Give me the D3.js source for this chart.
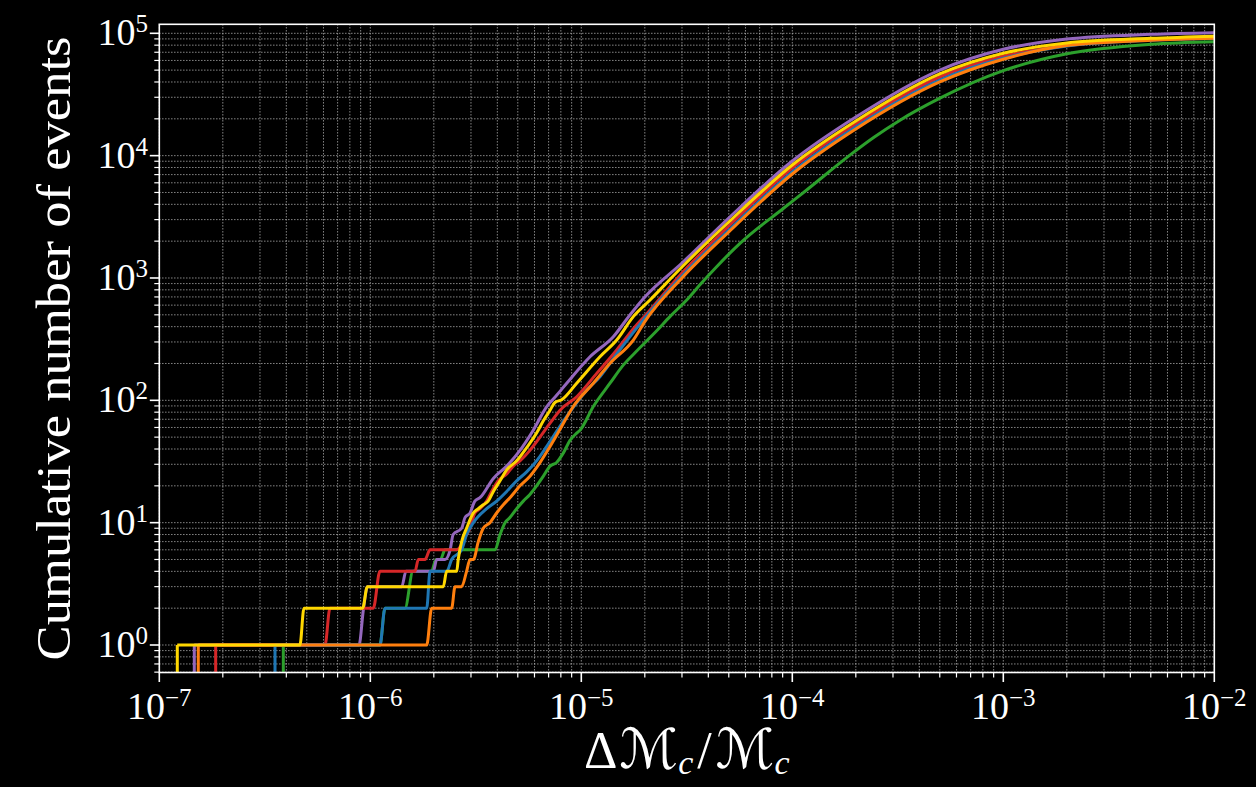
<!DOCTYPE html>
<html>
<head>
<meta charset="utf-8">
<script src="https://cdn.jsdelivr.net/npm/d3@7"></script>
<style>
  html, body { margin: 0; padding: 0; background: #000; }
  svg { display: block; }
</style>
</head>
<body>
<svg id="chart" width="1256" height="787"></svg>
<script>
// Axis decades
const xDecades = [-7, -6, -5, -4, -3, -2];
const yDecades = [0, 1, 2, 3, 4, 5];

// Series order (drawing order) and colours
const seriesNames = ["green", "purple", "red", "blue", "orange", "gold"];
const seriesColors = ["#2ca02c", "#9467bd", "#d62728", "#1f77b4", "#ff7f0e", "#ffd700"];

// Cumulative number of events vs. fractional chirp-mass error, [dM/M, count]
const greenCounts = [[3.87e-7,0],[3.87e-7,1],[1.111e-6,1],[1.174e-6,2],[1.46e-6,2],[1.594e-6,4],[1.95e-6,4],[2.048e-6,5],[2.15e-6,5],[2.26e-6,6],[3.90e-6,6],[4.12e-6,8],[4.35e-6,10],[4.59e-6,11],[4.94e-6,13],[5.31e-6,15],[5.71e-6,17],[6.14e-6,20],[6.61e-6,24],[7.11e-6,29],[7.64e-6,31],[8.21e-6,37],[8.84e-6,47],[9.51e-6,54],[9.86e-6,57],[1.14e-5,89],[1.368e-5,138],[1.581e-5,194],[1.797e-5,245],[2.277e-5,370],[2.63e-5,483],[3.16e-5,661],[3.65e-5,880],[4.38e-5,1237],[5.65e-5,1920],[9.06e-5,3700],[1.17e-4,5240],[1.875e-4,10100],[2.42e-4,14000],[3.24e-4,19500],[5.01e-4,29500],[1e-3,49500],[2e-3,68000],[5e-3,81300],[1e-2,85300]];

const purpleCounts = [[1.465e-7,0],[1.465e-7,1],[8.84e-7,1],[9.29e-7,2],[9.70e-7,3],[1.409e-6,3],[1.476e-6,4],[1.989e-6,4],[2.064e-6,5],[2.26e-6,5],[2.39e-6,6],[2.47e-6,8],[2.71e-6,9],[2.81e-6,11],[2.97e-6,12],[3.13e-6,15],[3.31e-6,16],[3.83e-6,23],[4.43e-6,29],[5.12e-6,39],[5.92e-6,57],[6.86e-6,89],[7.64e-6,110],[8.53e-6,138],[1.1e-5,227],[1.418e-5,331],[1.70e-5,498],[2e-5,699],[3e-5,1326],[5e-5,3092],[1e-4,9040],[2e-4,20700],[5e-4,50100],[1e-3,74000],[2e-3,89800],[5e-3,98100],[1e-2,101200]];

const redCounts = [[1.85e-7,0],[1.85e-7,1],[6.10e-7,1],[6.44e-7,2],[1.033e-6,2],[1.111e-6,4],[1.628e-6,4],[1.689e-6,5],[1.816e-6,5],[1.919e-6,6],[2.568e-6,6],[2.86e-6,8],[2.97e-6,9],[3.13e-6,12],[3.31e-6,13],[3.56e-6,15],[3.76e-6,18],[4.04e-6,22],[4.43e-6,25],[4.76e-6,29],[5.12e-6,32],[5.71e-6,39],[6.37e-6,50],[7.11e-6,65],[7.93e-6,83],[9.51e-6,107],[1.183e-5,166],[1.472e-5,258],[1.797e-5,400],[2e-5,490],[3e-5,1098],[5e-5,2660],[1e-4,7925],[2e-4,18140],[5e-4,43940],[1e-3,64860],[2e-3,79460],[5e-3,88500],[1e-2,92000]];

const blueCounts = [[3.535e-7,0],[3.535e-7,1],[1.111e-6,1],[1.174e-6,2],[1.851e-6,2],[1.919e-6,4],[2.30e-6,4],[2.43e-6,5],[2.71e-6,6],[2.86e-6,8],[3.08e-6,10],[3.56e-6,13],[3.97e-6,15],[4.43e-6,18],[4.94e-6,22],[5.51e-6,26],[6.14e-6,32],[6.86e-6,42],[8.53e-6,74],[1.061e-5,121],[1.226e-5,156],[1.5e-5,250],[2e-5,470],[3e-5,1038],[5e-5,2466],[1e-4,7350],[2e-4,17140],[5e-4,41500],[1e-3,62460],[2e-3,78800],[5e-3,87700],[1e-2,91200]];

const orangeCounts = [[1.53e-7,0],[1.53e-7,1],[1.851e-6,1],[1.954e-6,2],[2.43e-6,2],[2.52e-6,3],[2.71e-6,3],[2.86e-6,4],[2.97e-6,5],[3.08e-6,5],[3.25e-6,7],[3.43e-6,9],[3.69e-6,10],[3.97e-6,12],[4.27e-6,14],[4.59e-6,16],[5.12e-6,20],[5.71e-6,24],[6.37e-6,31],[7.11e-6,42],[7.93e-6,58],[9.16e-6,89],[1.14e-5,138],[1.368e-5,201],[1.764e-5,311],[2e-5,440],[3e-5,1000],[5e-5,2376],[1e-4,7080],[2e-4,16500],[5e-4,40000],[1e-3,61300],[2e-3,79460],[5e-3,87700],[1e-2,91000]];

const goldCounts = [[1.217e-7,0],[1.217e-7,1],[4.64e-7,1],[4.85e-7,2],[9.20e-7,2],[9.68e-7,3],[2.218e-6,3],[2.30e-6,4],[2.568e-6,4],[2.61e-6,5],[2.71e-6,7],[2.86e-6,9],[3.08e-6,12],[3.25e-6,13],[3.43e-6,14],[3.62e-6,15],[3.83e-6,18],[4.12e-6,22],[4.43e-6,27],[4.94e-6,32],[5.51e-6,41],[6.14e-6,54],[6.61e-6,68],[7.11e-6,83],[7.5e-6,96],[8.07e-6,101],[9.51e-6,138],[1.226e-5,227],[1.472e-5,311],[1.764e-5,483],[2.117e-5,661],[3e-5,1229],[5e-5,2868],[1e-4,8384],[2e-4,19190],[5e-4,46500],[1e-3,68640],[2e-3,83300],[5e-3,91000],[1e-2,94700]];

const seriesData = [greenCounts, purpleCounts, redCounts, blueCounts, orangeCounts, goldCounts];

// ---- layout ----
const plot = { left: 159.3, right: 1214.3, top: 24.3, bottom: 672.5 };
const FONT = "'Liberation Serif', 'Times New Roman', serif";
const SCRIPT_FONT = "'DejaVu Sans', 'DejaVu Serif', serif";
const LINE_W = 3;

const svg = d3.select("#chart");
svg.append("rect").attr("width", 1256).attr("height", 787).attr("fill", "#000");

const x = d3.scaleLog().domain([1e-7, 1e-2]).range([plot.left, plot.right]);
const y = d3.scaleLog().domain([0.596, 118470]).range([plot.bottom, plot.top]);

// major and minor tick values
const xMajor = xDecades.map(e => Math.pow(10, e));
const yMajor = yDecades.map(e => Math.pow(10, e));
const minorOf = (decs, lo, hi) => {
  const out = [];
  for (let e = decs[0] - 1; e <= decs[decs.length - 1]; e++) {
    for (let m = 2; m <= 9; m++) {
      const v = m * Math.pow(10, e);
      if (v >= lo && v <= hi) out.push(v);
    }
  }
  return out;
};
const xMinor = minorOf(xDecades, 1e-7, 1e-2);
const yMinor = minorOf(yDecades, 0.596, 118470);

// ---- grid (dotted, major + minor) ----
const grid = svg.append("g").attr("stroke", "#b8b8b8").attr("stroke-width", 1)
  .attr("stroke-dasharray", "1.1,1.9").attr("fill", "none");
xMajor.concat(xMinor).forEach(v => {
  grid.append("line").attr("x1", x(v)).attr("x2", x(v))
    .attr("y1", plot.top).attr("y2", plot.bottom);
});
yMajor.concat(yMinor).forEach(v => {
  grid.append("line").attr("x1", plot.left).attr("x2", plot.right)
    .attr("y1", y(v)).attr("y2", y(v));
});

// ---- curves ----
svg.append("clipPath").attr("id", "plotClip").append("rect")
  .attr("x", plot.left).attr("y", plot.top)
  .attr("width", plot.right - plot.left).attr("height", plot.bottom - plot.top);

const curves = svg.append("g").attr("clip-path", "url(#plotClip)");
const line = d3.line()
  .x(d => x(d[0]))
  .y(d => y(d[1]))
  .curve(d3.curveMonotoneX);

seriesData.forEach((data, i) => {
  const g = curves.append("g").attr("class", "series-" + seriesNames[i]);
  const positive = data.filter(d => d[1] > 0);
  // zero-count start drops off the bottom of the log axis
  data.filter(d => d[1] === 0).forEach(d => {
    g.append("line")
      .attr("x1", x(d[0])).attr("x2", x(d[0]))
      .attr("y1", y(positive[0][1])).attr("y2", plot.bottom + 10)
      .attr("stroke", seriesColors[i]).attr("stroke-width", LINE_W);
  });
  g.append("path").datum(positive)
    .attr("d", line)
    .attr("fill", "none")
    .attr("stroke", seriesColors[i])
    .attr("stroke-width", LINE_W)
    .attr("stroke-linejoin", "round");
});

// ---- ticks ----
const ticks = svg.append("g").attr("stroke", "#fff");
xMajor.forEach(v => ticks.append("line").attr("x1", x(v)).attr("x2", x(v))
  .attr("y1", plot.bottom).attr("y2", plot.bottom + 9.5).attr("stroke-width", 1.6));
xMinor.forEach(v => ticks.append("line").attr("x1", x(v)).attr("x2", x(v))
  .attr("y1", plot.bottom).attr("y2", plot.bottom + 5).attr("stroke-width", 1.2));
yMajor.forEach(v => ticks.append("line").attr("y1", y(v)).attr("y2", y(v))
  .attr("x1", plot.left).attr("x2", plot.left - 9.5).attr("stroke-width", 1.6));
yMinor.forEach(v => ticks.append("line").attr("y1", y(v)).attr("y2", y(v))
  .attr("x1", plot.left).attr("x2", plot.left - 5).attr("stroke-width", 1.2));

// ---- spines ----
svg.append("rect")
  .attr("x", plot.left).attr("y", plot.top)
  .attr("width", plot.right - plot.left).attr("height", plot.bottom - plot.top)
  .attr("fill", "none").attr("stroke", "#fff").attr("stroke-width", 1.6);

// ---- tick labels (powers of ten) ----
function powerLabel(sel, e) {
  sel.append("tspan").text("10");
  sel.append("tspan").attr("dy", -13).attr("font-size", 25)
    .text(e < 0 ? "\u2212" + (-e) : String(e));
}
xDecades.forEach(e => {
  const t = svg.append("text")
    .attr("x", x(Math.pow(10, e))).attr("y", 719)
    .attr("text-anchor", "middle").attr("fill", "#fff")
    .attr("font-family", FONT).attr("font-size", 38);
  powerLabel(t, e);
});
yDecades.forEach(e => {
  const t = svg.append("text")
    .attr("x", 148).attr("y", y(Math.pow(10, e)) + 12)
    .attr("text-anchor", "end").attr("fill", "#fff")
    .attr("font-family", FONT).attr("font-size", 38);
  powerLabel(t, e);
});

// ---- axis titles ----
svg.append("text")
  .attr("transform", `translate(70, ${(plot.top + plot.bottom) / 2}) rotate(-90)`)
  .attr("text-anchor", "middle").attr("fill", "#fff")
  .attr("font-family", FONT).attr("font-size", 48)
  .attr("textLength", 624).attr("lengthAdjust", "spacingAndGlyphs")
  .text("Cumulative number of events");

const xl = svg.append("text")
  .attr("x", (plot.left + plot.right) / 2).attr("y", 768)
  .attr("text-anchor", "middle").attr("fill", "#fff")
  .attr("font-family", FONT).attr("font-size", 52);
xl.append("tspan").text("\u0394");
xl.append("tspan").attr("font-family", SCRIPT_FONT).attr("font-size", 55).attr("dx", 2).text("\u2133");
xl.append("tspan").attr("font-style", "italic").attr("font-size", 34).attr("dy", 6).text("c");
xl.append("tspan").attr("dy", -6).attr("dx", 4).text("/");
xl.append("tspan").attr("font-family", SCRIPT_FONT).attr("font-size", 55).attr("dx", 4).text("\u2133");
xl.append("tspan").attr("font-style", "italic").attr("font-size", 34).attr("dy", 6).text("c");
</script>
</body>
</html>
